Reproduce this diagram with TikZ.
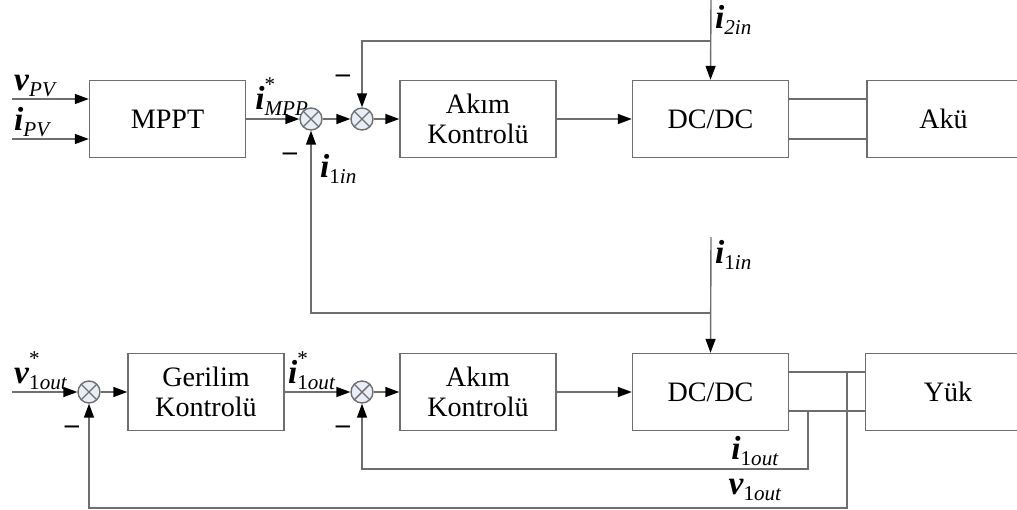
\documentclass[tikz,border=0pt]{standalone}
\usepackage{fontspec}
\setmainfont{Liberation Serif}
\usetikzlibrary{arrows.meta,positioning}
\definecolor{LineGray}{RGB}{110,110,110}
\definecolor{SumFill}{RGB}{232,238,248}
\newcommand{\subsz}{\fontsize{12}{12}\selectfont}
\newcommand{\sigl}[2]{\textbf{\textit{#1}}\raisebox{-0.4ex}{\subsz #2}}
\newcommand{\sigs}[2]{\textbf{\textit{#1}}\rlap{\raisebox{1.2ex}{\subsz *}}\raisebox{-0.4ex}{\subsz #2}}
\tikzset{
  block/.style={draw=LineGray,line width=0.8pt,fill=white,minimum width=3.12cm,
    minimum height=1.54cm,align=center,font=\fontsize{16}{17}\selectfont,inner sep=0pt},
  summer/.style={circle,draw=LineGray,line width=0.8pt,fill=SumFill,minimum size=0.44cm,
    inner sep=0pt,path picture={\draw[LineGray,line width=0.8pt]
      (path picture bounding box.south west) -- (path picture bounding box.north east)
      (path picture bounding box.north west) -- (path picture bounding box.south east);}},
  wire/.style={LineGray,line width=0.8pt},
  arrow/.style={wire,-{Triangle[length=0.28cm,width=0.2cm,black]}},
  sig/.style={inner sep=1pt,font=\fontsize{19}{20}\selectfont},
  minus/.style={inner sep=0pt,font=\fontsize{16}{16}\selectfont\bfseries}
}
\begin{document}
\begin{tikzpicture}[x=0.02cm,y=-0.02cm]
  \useasboundingbox (0,0) rectangle (1017,510);
  \clip (0,0) rectangle (1017,510);
  % upper loop
  \node[block] (mppt) at (167.5,119) {MPPT};
  \node[summer] (sum1) at (311,119) {};
  \node[summer] (sum2) at (362,119) {};
  \node[block] (akim1) at (478,119) {Akım\\Kontrolü};
  \node[block] (dcdc1) at (710.5,119) {DC/DC};
  \node[block,minimum width=3.06cm] (aku) at (943.5,119) {Akü};
  % lower loop
  \node[summer] (sum3) at (89,392) {};
  \node[block] (ger) at (206,392) {Gerilim\\Kontrolü};
  \node[summer] (sum4) at (362,392) {};
  \node[block] (akim2) at (478,392) {Akım\\Kontrolü};
  \node[block] (dcdc2) at (710.5,392) {DC/DC};
  \node[block,minimum width=3.3cm] (yuk) at (948,392) {Yük};
  % free ends
  \coordinate (vin) at (12,99);
  \coordinate (iin) at (12,139);
  \coordinate (vref) at (12,392);
  \coordinate (i2top) at (711,0);
  \coordinate (i2fb) at (711,41);
  \coordinate (i1top) at (711,237);
  \coordinate (i1fb) at (711,313);
  \coordinate (iofb) at (808,411);
  \coordinate (vofb) at (847,372);

  \draw[arrow] (vin) -- (vin -| mppt.west);
  \draw[arrow] (iin) -- (iin -| mppt.west);
  \draw[arrow] (mppt) -- (sum1);
  \draw[arrow] (sum1) -- (sum2);
  \draw[arrow] (sum2) -- (akim1);
  \draw[arrow] (akim1) -- (dcdc1);
  \draw[arrow] (i2top) -- (dcdc1.north);
  \draw[arrow] (i2fb) -| (sum2.north);
  \draw[wire] (dcdc1.east |- 0,99) -- (aku.west |- 0,99);
  \draw[wire] (dcdc1.east |- 0,139) -- (aku.west |- 0,139);
  \draw[arrow] (i1top) -- (dcdc2.north);
  \draw[arrow] (i1fb) -| (sum1.south);

  \draw[arrow] (vref) -- (sum3);
  \draw[arrow] (sum3) -- (ger);
  \draw[arrow] (ger) -- (sum4);
  \draw[arrow] (sum4) -- (akim2);
  \draw[arrow] (akim2) -- (dcdc2);
  \draw[wire] (dcdc2.east |- vofb) -- (yuk.west |- vofb);
  \draw[wire] (dcdc2.east |- iofb) -- (yuk.west |- iofb);
  \draw[arrow] (iofb) -- (808,469) -| (sum4.south);
  \draw[arrow] (vofb) -- (847,508) -| (sum3.south);

  % labels
  \node[sig,anchor=south west] at (vin) {\sigl{v}{\textit{PV}}};
  \node[sig,anchor=south west] at (iin) {\sigl{i}{\textit{PV}}};
  \node[sig,anchor=south west,inner sep=0pt] at (255,116) {\sigs{i}{\textit{MPP}}};
  \node[sig,anchor=north west] at (713,3) {\sigl{i}{\textit{2in}}};
  \node[sig,anchor=north west] at (318,152) {\sigl{i}{1\textit{in}}};
  \node[sig,anchor=north west] at (713,238) {\sigl{i}{1\textit{in}}};
  \node[sig,anchor=south west] at (vref) {\sigs{v}{1\textit{out}}};
  \node[sig,anchor=south west] at (286,392) {\sigs{i}{1\textit{out}}};
  \node[sig] at (755,451) {\sigl{i}{1\textit{out}}};
  \node[sig] at (755,490) {\sigl{v}{1\textit{out}}};
  \node[minus] at (290,157) {--};
  \node[minus] at (343,79) {--};
  \node[minus] at (72,430) {--};
  \node[minus] at (343,430) {--};
\end{tikzpicture}
\end{document}
